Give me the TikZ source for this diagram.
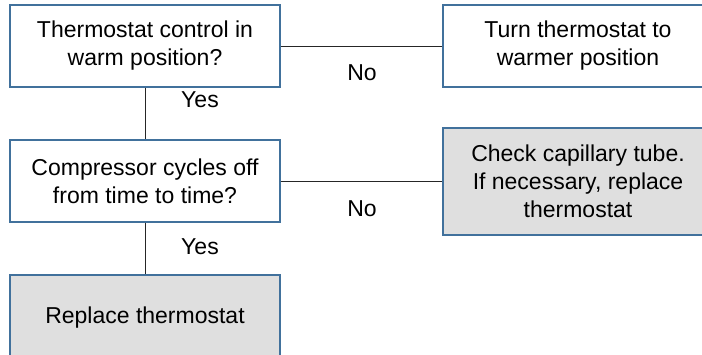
\documentclass[tikz,border=0pt]{standalone}
\usepackage{fontspec}
\setmainfont{Liberation Sans}
\begin{document}
\definecolor{boxline}{RGB}{65,113,156}
\definecolor{actfill}{RGB}{223,223,223}
\begin{tikzpicture}[x=1pt,y=-1pt,
  base/.style={draw=boxline,line width=1.3pt,align=center,inner sep=0pt,
    font=\fontsize{23}{28}\selectfont,text=black},
  question/.style={base,fill=white,minimum width=270pt,minimum height=82pt},
  action/.style={base,fill=white,minimum width=270pt},
  grey/.style={fill=actfill},
  link/.style={draw=black!85,line width=0.9pt},
  lbl/.style={font=\fontsize{23}{26}\selectfont,inner sep=0pt}]
\path[use as bounding box,clip] (0,0) rectangle (702,354);
\fill[white] (0,0) rectangle (702,354);

% decision boxes on the left
\node[question] (q1) at (145,46) {Thermostat control in\\warm position?};
\node[question] (q2) at (145,181) {Compressor cycles off\\from time to time?};
% remedies
\node[action,minimum height=82pt] (a1) at (578,46) {Turn thermostat to\\warmer position};
\node[action,grey,minimum height=107pt] (a2) at (578,181.5) {Check capillary tube.\\If necessary, replace\\thermostat};
\node[action,grey,minimum height=86pt] (a3) at (145,318) {Replace thermostat};

% connectors
\draw[link] (q1.east) -- (a1.west);
\draw[link] (q2.east) -- (a2.west |- q2.east);
\draw[link] (q1.south) -- (q2.north);
\draw[link] (q2.south) -- (a3.north);

% branch labels
\node[lbl] (y1) at (200,100) {Yes};
\node[lbl] (y2) at (200,247) {Yes};
\node[lbl] (n1) at (362,73) {No};
\node[lbl] (n2) at (362,209) {No};
\end{tikzpicture}
\end{document}
